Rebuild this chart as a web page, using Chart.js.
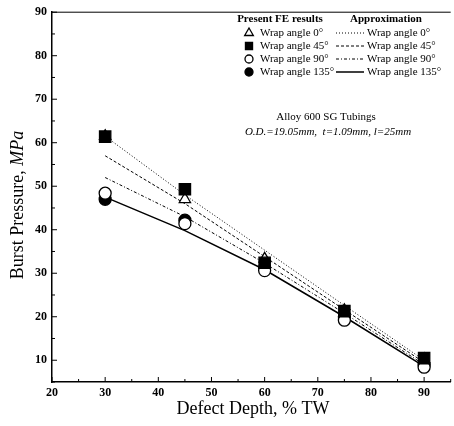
<!DOCTYPE html>
<html>
<head>
<meta charset="utf-8">
<script src="https://cdn.jsdelivr.net/npm/chart.js@4"></script>
<style>
  body { margin: 0; background: #fff; overflow: hidden; }
  #wrap { width: 460px; height: 426px; }
</style>
</head>
<body>
<div id="wrap"><canvas id="chart"></canvas></div>
<script>
// depth of defect, % TW
const depths = [30, 45, 60, 75, 90];

// present FE results (markers)
const fe0 = [61.5, 47.0, 33.3, 21.5, 10.2];
const fe45 = [61.4, 49.3, 32.4, 21.3, 10.5];
const fe90 = [48.4, 41.4, 30.6, 19.2, 8.4];
const fe135 = [47.0, 42.2, 31.3, 20.0, 9.0];

// approximation curves
const ap0 = [61.5, 48.0, 35.3, 22.6, 10.0];
const ap45 = [57.0, 46.0, 33.8, 21.6, 9.5];
const ap90 = [52.0, 43.0, 32.3, 20.8, 9.0];
const ap135 = [47.5, 39.8, 30.8, 20.0, 8.6];

const xTicks = [20, 30, 40, 50, 60, 70, 80, 90];
const yTicks = [10, 20, 30, 40, 50, 60, 70, 80, 90];

const serif = "'Liberation Serif', 'DejaVu Serif', serif";
const pts = arr => arr.map((v, i) => ({ x: depths[i], y: v }));

const markerSet = (label, data, style, filled, r, ord) => ({
  type: "scatter",
  label: label,
  data: pts(data),
  pointStyle: style,
  pointRadius: r,
  pointBorderWidth: 1.3,
  pointBorderColor: "#000",
  pointBackgroundColor: filled ? "#000" : "#fff",
  showLine: false,
  order: ord
});

const lineSet = (label, data, dash, w) => ({
  type: "line",
  label: label,
  data: pts(data),
  borderColor: "#000",
  borderWidth: w,
  borderDash: dash,
  pointRadius: 0,
  fill: false,
  tension: 0,
  order: 10
});

const legendRows = [
  { text: "Wrap angle 0°", style: "triangle", filled: false, r: 5, dash: [1, 2], w: 1 },
  { text: "Wrap angle 45°", style: "rect", filled: true, r: 5, dash: [3, 2], w: 1 },
  { text: "Wrap angle 90°", style: "circle", filled: false, r: 4, dash: [3, 2, 1, 2], w: 1 },
  { text: "Wrap angle 135°", style: "circle", filled: true, r: 4, dash: [], w: 1.5 }
];

const decor = {
  id: "decor",
  afterDraw(chart) {
    const ctx = chart.ctx;
    const a = chart.chartArea;
    const sx = chart.scales.x, sy = chart.scales.y;
    ctx.save();
    ctx.strokeStyle = "#000";
    ctx.lineWidth = 1;
    // top frame line
    ctx.beginPath();
    ctx.moveTo(a.left, a.top);
    ctx.lineTo(a.right, a.top);
    ctx.stroke();
    // inward ticks
    sx.ticks.forEach(t => {
      const px = sx.getPixelForValue(t.value);
      const len = t.value % 10 === 0 ? 5 : 3;
      ctx.beginPath();
      ctx.moveTo(px, a.bottom);
      ctx.lineTo(px, a.bottom - len);
      ctx.stroke();
    });
    sy.ticks.forEach(t => {
      const py = sy.getPixelForValue(t.value);
      const len = t.value % 10 === 0 ? 5 : 3;
      ctx.beginPath();
      ctx.moveTo(a.left, py);
      ctx.lineTo(a.left + len, py);
      ctx.stroke();
    });

    // axis titles
    ctx.fillStyle = "#000";
    ctx.textBaseline = "middle";
    ctx.textAlign = "left";
    const xt1 = "Defect Depth, % TW";
    ctx.font = "18px " + serif;
    const xw = ctx.measureText(xt1).width;
    ctx.fillText(xt1, 253 - xw / 2, 409);

    ctx.save();
    ctx.translate(18, 205);
    ctx.rotate(-Math.PI / 2);
    const yt1 = "Burst Pressure, ";
    const yt2 = "MPa";
    ctx.font = "18px " + serif;
    const w1 = ctx.measureText(yt1).width;
    ctx.font = "italic 18px " + serif;
    const w2 = ctx.measureText(yt2).width;
    const x0 = -(w1 + w2) / 2;
    ctx.font = "18px " + serif;
    ctx.fillText(yt1, x0, 0);
    ctx.font = "italic 18px " + serif;
    ctx.fillText(yt2, x0 + w1, 0);
    ctx.restore();

    // legend
    ctx.font = "bold 11px " + serif;
    ctx.textAlign = "center";
    ctx.fillText("Present FE results", 280, 19);
    ctx.fillText("Approximation", 386, 19);
    ctx.textAlign = "left";
    legendRows.forEach((row, i) => {
      const y = 33 + i * 13;
      ctx.fillStyle = row.filled ? "#000" : "#fff";
      ctx.strokeStyle = "#000";
      ctx.lineWidth = 1.3;
      Chart.helpers.drawPoint(ctx, { pointStyle: row.style, radius: row.r, rotation: 0, borderWidth: 1.3 }, 249, y);
      ctx.fillStyle = "#000";
      ctx.font = "11px " + serif;
      ctx.fillText(row.text, 260, y);
      ctx.lineWidth = row.w;
      ctx.setLineDash(row.dash);
      ctx.beginPath();
      ctx.moveTo(336, y);
      ctx.lineTo(364, y);
      ctx.stroke();
      ctx.setLineDash([]);
      ctx.fillText(row.text, 367, y);
    });

    // specimen note
    ctx.textAlign = "center";
    ctx.font = "11px " + serif;
    ctx.fillText("Alloy 600 SG Tubings", 326, 117);
    ctx.font = "italic 11px " + serif;
    ctx.fillText("O.D.=19.05mm,  t=1.09mm, l=25mm", 328, 132);
    ctx.restore();
  }
};

new Chart(document.getElementById("chart"), {
  data: {
    datasets: [
      markerSet("FE 45°", fe45, "rect", true, 8, 1),
      markerSet("FE 0°", fe0, "triangle", false, 6.5, 2),
      markerSet("FE 90°", fe90, "circle", false, 6, 3),
      markerSet("FE 135°", fe135, "circle", true, 6, 4),
      lineSet("Approx 0°", ap0, [1, 2], 1),
      lineSet("Approx 45°", ap45, [3, 2], 1),
      lineSet("Approx 90°", ap90, [3, 2, 1, 2], 1),
      lineSet("Approx 135°", ap135, [], 1.5)
    ]
  },
  options: {
    responsive: true,
    maintainAspectRatio: false,
    animation: false,
    layout: { padding: { top: 10, right: 3, left: 0, bottom: 0 } },
    plugins: { legend: { display: false }, tooltip: { enabled: false } },
    scales: {
      x: {
        type: "linear",
        min: 20,
        max: 95,
        ticks: {
          stepSize: 5,
          autoSkip: false,
          maxRotation: 0,
          padding: 4,
          color: "#000",
          font: { family: serif, size: 12, weight: "bold" },
          callback: v => (xTicks.includes(v) ? String(v) : "")
        },
        grid: { display: false, drawTicks: false },
        border: { display: true, color: "#000", width: 1.5 },
        afterFit: s => { s.height = 44; }
      },
      y: {
        type: "linear",
        min: 5,
        max: 90,
        ticks: {
          stepSize: 5,
          autoSkip: false,
          padding: 5,
          color: "#000",
          font: { family: serif, size: 12, weight: "bold" },
          callback: v => (yTicks.includes(v) ? String(v) : "")
        },
        grid: { display: false, drawTicks: false },
        border: { display: true, color: "#000", width: 1.5 },
        afterFit: s => { s.width = 52; }
      }
    }
  },
  plugins: [decor]
});
</script>
</body>
</html>
